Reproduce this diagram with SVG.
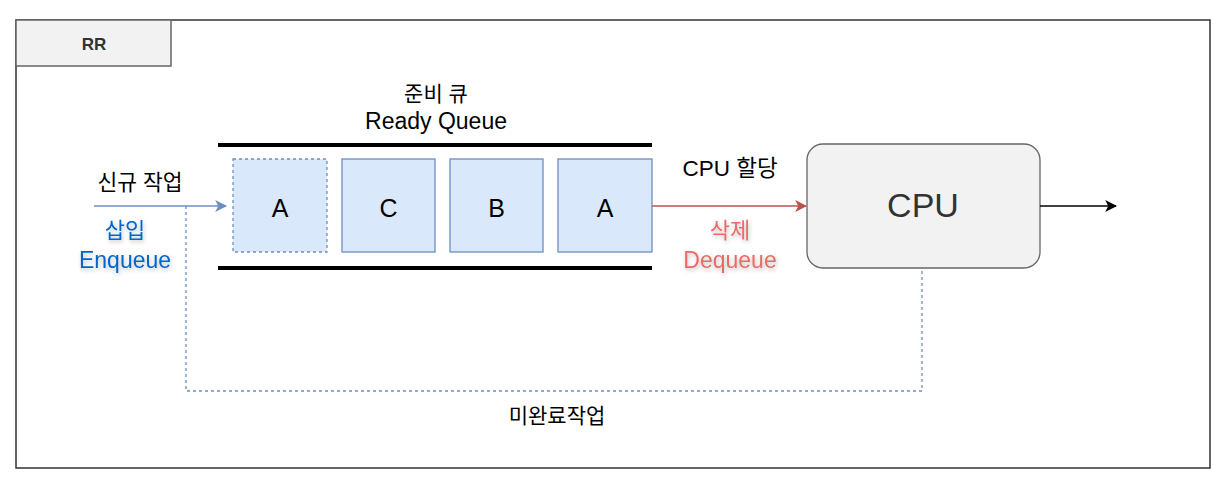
<svg xmlns="http://www.w3.org/2000/svg" width="1230" height="491" viewBox="0 0 1230 491">
<defs>
<style>
.t{font-family:"Liberation Sans","Noto Sans CJK KR",sans-serif;text-anchor:middle}
.q{fill:#dae8fc;stroke:#6c8ebf;stroke-width:1.3}
.bar{stroke:#000;stroke-width:4}
</style>
<marker id="mb" viewBox="0 0 10 10" refX="9" refY="5" markerWidth="12" markerHeight="12" markerUnits="userSpaceOnUse" orient="auto"><path d="M0,0 L10,5 L0,10 L2.5,5 Z" fill="#6c8ebf"/></marker>
<marker id="mr" viewBox="0 0 10 10" refX="9" refY="5" markerWidth="12" markerHeight="12" markerUnits="userSpaceOnUse" orient="auto"><path d="M0,0 L10,5 L0,10 L2.5,5 Z" fill="#b85450"/></marker>
<marker id="mk" viewBox="0 0 10 10" refX="9" refY="5" markerWidth="12" markerHeight="12" markerUnits="userSpaceOnUse" orient="auto"><path d="M0,0 L10,5 L0,10 L2.5,5 Z" fill="#000"/></marker>
<filter id="sh" x="-20%" y="-30%" width="140%" height="160%"><feDropShadow dx="1" dy="2" stdDeviation="2" flood-color="#000" flood-opacity="0.25"/></filter>
</defs>
<rect width="1230" height="491" fill="#fff"/>
<g id="frame">
<rect x="16" y="20" width="1194" height="448" fill="#fff" stroke="#333" stroke-width="1.5"/>
<rect x="16" y="20" width="155" height="46" fill="#f2f2f2" stroke="#666" stroke-width="1.5"/>
<text class="t" x="94" y="50" font-size="17" font-weight="bold" fill="#333">RR</text>
</g>
<g id="queue">
<line class="bar" x1="218" y1="145" x2="652" y2="145"/>
<line class="bar" x1="218" y1="268" x2="652" y2="268"/>
<text class="t" x="436" y="101" font-size="21" fill="#000">준비 큐</text>
<text class="t" x="436" y="129" font-size="23" fill="#000">Ready Queue</text>
</g>
<g id="qa1">
<rect class="q" x="233" y="159" width="94" height="93" stroke-dasharray="3 3"/>
<text class="t" x="280" y="217" font-size="25">A</text>
</g>
<g id="qc">
<rect class="q" x="342" y="159" width="93" height="93"/>
<text class="t" x="388.5" y="217" font-size="25">C</text>
</g>
<g id="qb">
<rect class="q" x="450" y="159" width="93" height="93"/>
<text class="t" x="496.5" y="217" font-size="25">B</text>
</g>
<g id="qa2">
<rect class="q" x="558" y="159" width="94" height="93"/>
<text class="t" x="605" y="217" font-size="25">A</text>
</g>
<g id="cpu">
<rect x="807" y="144" width="233" height="124" rx="16" fill="#f2f2f2" stroke="#666" stroke-width="1.3"/>
<text class="t" x="923" y="217" font-size="34" fill="#333">CPU</text>
</g>
<g id="connectors">
<line x1="94" y1="206" x2="226" y2="206" stroke="#6c8ebf" stroke-width="1.3" marker-end="url(#mb)"/>
<line x1="652" y1="206" x2="806" y2="206" stroke="#b85450" stroke-width="1.3" marker-end="url(#mr)"/>
<line x1="1040" y1="206" x2="1116" y2="206" stroke="#000" stroke-width="1.3" marker-end="url(#mk)"/>
<polyline points="186,206 186,391 922,391 922,268" fill="none" stroke="#6c8ebf" stroke-width="1.3" stroke-dasharray="3 3"/>
</g>
<g id="labels">
<text class="t" x="140" y="190" font-size="21.5" fill="#000">신규 작업</text>
<g filter="url(#sh)">
<text class="t" x="125" y="238" font-size="22" fill="#0066cc">삽입</text>
<text class="t" x="125" y="268" font-size="23" fill="#0066cc">Enqueue</text>
<text class="t" x="730" y="238" font-size="22" fill="#ea6b66">삭제</text>
<text class="t" x="730" y="268" font-size="23" fill="#ea6b66">Dequeue</text>
</g>
<text class="t" x="730" y="176" font-size="22.5" fill="#000">CPU 할당</text>
<text class="t" x="557" y="423" font-size="21" fill="#000">미완료작업</text>
</g>
</svg>
